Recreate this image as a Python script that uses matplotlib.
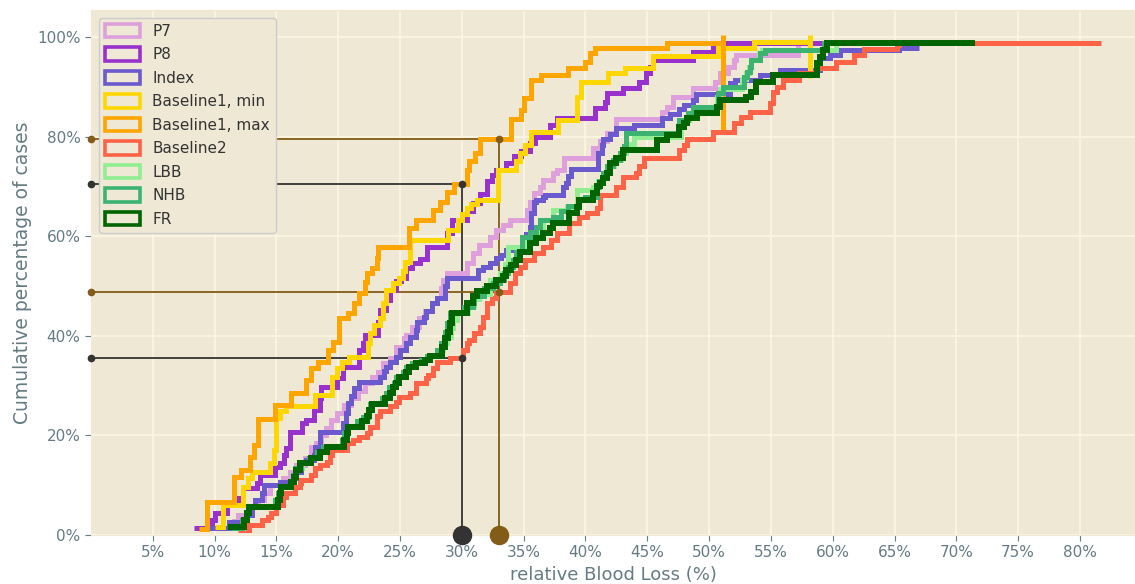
import matplotlib
matplotlib.use("Agg")
import matplotlib.pyplot as plt
from matplotlib.patches import Patch
from matplotlib.ticker import PercentFormatter

# серии (порядок как в легенде)
labels = ["P7", "P8", "Index", "Baseline1, min", "Baseline1, max",
          "Baseline2", "LBB", "NHB", "FR"]
colors = ["plum", "darkorchid", "slateblue", "gold", "orange",
          "tomato", "lightgreen", "mediumseagreen", "darkgreen"]

# точки ступенек: кровопотеря (%) и накопленная доля случаев (%)
p7_loss = [11.3, 11.6, 11.9, 13.0, 13.5, 14.0, 14.5, 15.5, 16.1, 16.6, 17.3, 17.8, 18.2, 18.6, 19.0,
           19.4, 19.9, 20.5, 21.0, 21.6, 22.2, 22.7, 23.2, 23.6, 24.2, 24.7, 25.3, 25.5, 26.0, 26.5,
           27.0, 27.6, 28.0, 28.3, 28.5, 28.8, 30.4, 30.9, 31.4, 32.3, 32.8, 33.3, 33.9, 35.3, 35.5,
           35.8, 36.3, 36.6, 37.4, 37.7, 38.3, 40.6, 41.2, 41.7, 42.5, 46.2, 46.6, 47.1, 48.7, 50.5,
           50.9, 51.5, 52.0, 52.2, 57.2, 58.5]
p7_cum = [1.4, 2.8, 4.0, 5.7, 7.0, 8.5, 10.0, 11.5, 12.7, 14.0, 15.5, 17.7, 18.4, 20.0, 21.5,
          23.0, 24.5, 26.0, 27.5, 29.0, 30.5, 31.8, 32.8, 34.5, 35.5, 37.8, 39.5, 40.2, 41.8, 43.5,
          45.0, 46.5, 47.6, 49.5, 51.2, 52.5, 54.6, 56.6, 58.2, 59.9, 61.2, 62.3, 63.3, 65.3, 66.9,
          68.6, 69.9, 71.3, 72.7, 73.3, 75.6, 77.7, 79.0, 80.7, 83.5, 85.0, 86.0, 88.0, 89.7, 91.0,
          92.7, 94.0, 95.4, 96.4, 98.8, 98.8]

p8_loss = [8.3, 9.75, 10.0, 11.0, 12.0, 12.3, 13.4, 13.7, 14.9, 15.3, 15.6, 15.8, 16.1, 17.1, 17.4,
           18.0, 18.5, 18.6, 19.9, 20.4, 21.7, 22.0, 22.2, 23.2, 23.4, 23.9, 24.2, 24.7, 25.1, 25.5,
           26.0, 26.6, 27.2, 28.8, 29.2, 30.4, 30.9, 31.5, 32.0, 32.4, 32.8, 33.6, 34.2, 34.8, 35.5,
           35.9, 37.1, 37.7, 40.8, 41.6, 41.7, 43.0, 44.3, 44.9, 45.2, 45.5, 48.7, 50.3, 59.2]
p8_cum = [1.4, 3.0, 4.4, 6.0, 7.5, 9.4, 10.4, 12.0, 13.6, 14.4, 16.0, 17.5, 20.7, 22.5, 23.0,
          25.1, 27.5, 29.8, 31.5, 33.8, 37.1, 38.5, 40.2, 42.8, 45.2, 47.2, 49.2, 50.9, 51.6, 53.6,
          54.6, 55.5, 57.9, 60.6, 63.3, 65.0, 66.6, 68.5, 71.0, 72.3, 73.3, 74.7, 76.0, 77.0, 78.7,
          80.0, 82.3, 83.7, 85.7, 87.0, 88.7, 89.7, 91.0, 92.7, 94.0, 95.4, 97.0, 98.8, 98.8]

index_loss = [9.5, 11.2, 12.6, 13.0, 13.3, 13.8, 14.0, 15.3, 16.3, 16.6, 17.0, 17.4, 18.0, 18.1, 18.5,
              20.4, 20.6, 20.8, 21.0, 21.3, 21.7, 23.4, 23.7, 23.9, 24.2, 24.7, 25.0, 25.5, 25.8, 26.3,
              26.4, 26.9, 27.1, 27.6, 28.0, 28.6, 28.8, 31.3, 31.7, 32.3, 32.8, 33.2, 33.6, 34.9, 35.2,
              35.5, 35.6, 35.8, 36.0, 36.6, 36.7, 38.2, 38.4, 38.6, 38.8, 41.0, 41.3, 41.4, 42.0, 42.5,
              43.9, 46.2, 46.8, 47.6, 48.0, 48.7, 48.9, 51.7, 52.1, 54.1, 55.7, 59.0, 59.8, 60.6, 65.4,
              67.0]
index_cum = [1.4, 2.7, 4.0, 5.7, 7.0, 8.4, 10.0, 10.7, 11.4, 12.7, 14.4, 15.1, 16.1, 17.7, 20.7,
             22.5, 24.5, 26.5, 28.0, 29.5, 30.8, 31.8, 33.0, 33.8, 34.8, 35.8, 37.1, 38.5, 39.8, 41.2,
             42.8, 43.8, 45.0, 46.5, 47.6, 50.0, 51.5, 53.2, 53.9, 54.6, 55.6, 56.2, 57.2, 59.2, 60.5,
             61.9, 64.6, 66.9, 67.3, 67.9, 68.3, 69.9, 70.7, 72.0, 73.5, 76.7, 78.3, 79.6, 80.5, 81.7,
             82.3, 83.7, 84.5, 85.5, 86.3, 87.3, 88.5, 90.7, 91.4, 92.4, 93.4, 95.7, 96.4, 97.4, 97.7,
             97.7]

b1min_loss = [10.0, 10.7, 12.3, 12.7, 13.0, 14.5, 14.8, 15.0, 15.3, 15.8, 18.1, 19.5, 19.9, 20.3, 20.9,
              22.4, 22.6, 22.9, 23.4, 23.6, 23.9, 24.4, 24.9, 25.2, 25.4, 25.8, 28.9, 29.7, 30.0, 30.4,
              30.7, 31.2, 32.9, 34.4, 34.7, 35.1, 35.6, 37.8, 39.3, 39.6, 41.8, 43.2, 45.5, 50.7, 53.6,
              58.2]
b1min_cum = [1.6, 6.0, 9.7, 11.4, 12.7, 14.4, 17.0, 23.4, 24.8, 25.8, 28.1, 31.8, 33.5, 34.8, 35.8,
             38.5, 40.5, 42.2, 43.6, 46.5, 49.2, 50.6, 51.6, 53.0, 54.9, 59.2, 61.2, 63.3, 64.5, 65.6,
             66.5, 67.3, 73.3, 75.0, 76.6, 78.3, 81.0, 83.3, 88.0, 91.0, 92.7, 93.7, 96.2, 97.7, 98.9,
             98.9]

b1max_loss = [8.7, 9.35, 11.6, 12.1, 12.9, 13.2, 13.5, 14.9, 16.2, 17.4, 17.8, 18.4, 19.2, 19.6, 20.1,
              20.8, 21.3, 21.7, 22.2, 22.3, 22.7, 23.1, 23.2, 25.7, 26.3, 27.7, 28.2, 28.8, 29.4, 30.4,
              30.6, 31.05, 31.5, 34.0, 34.8, 35.0, 35.6, 36.4, 38.6, 40.0, 40.4, 40.8, 46.6, 51.1]
b1max_cum = [1.2, 6.7, 11.7, 13.0, 15.7, 18.0, 23.3, 26.1, 28.5, 31.1, 33.5, 34.8, 37.1, 38.8, 43.6,
             44.6, 46.6, 48.6, 50.8, 52.6, 53.6, 55.6, 57.9, 61.6, 63.3, 65.3, 66.9, 68.9, 70.5, 73.3,
             75.0, 76.6, 79.5, 83.5, 85.3, 87.7, 91.4, 92.4, 93.7, 95.0, 96.7, 97.7, 98.7, 98.7]

b2_loss = [11.9, 12.8, 13.8, 14.3, 14.6, 15.0, 15.5, 15.8, 16.5, 16.9, 17.0, 17.8, 18.1, 18.5, 19.05,
           19.3, 19.5, 20.7, 21.2, 21.7, 22.3, 22.6, 23.1, 23.4, 24.2, 24.7, 24.9, 25.8, 26.3, 27.1,
           27.3, 27.7, 28.0, 29.0, 30.1, 30.4, 30.6, 31.0, 31.5, 31.7, 32.0, 32.4, 32.8, 33.9, 34.3,
           34.7, 35.1, 35.8, 36.6, 37.2, 37.7, 38.7, 39.5, 40.1, 40.9, 41.2, 42.5, 43.0, 44.1, 44.3,
           44.7, 47.6, 48.0, 48.2, 50.3, 52.0, 52.6, 53.3, 54.9, 55.2, 55.5, 56.0, 57.3, 58.7, 60.3,
           61.7, 62.5, 65.2, 65.4, 81.7]
b2_cum = [1.0, 2.0, 3.0, 3.7, 4.4, 6.0, 7.7, 8.4, 9.7, 10.4, 11.0, 12.0, 13.4, 14.1, 14.7,
          16.0, 17.1, 18.4, 19.1, 19.7, 20.4, 21.7, 23.8, 24.8, 25.8, 26.8, 27.8, 28.5, 30.5, 31.5,
          32.1, 33.5, 34.8, 35.5, 37.1, 38.5, 39.2, 40.5, 41.8, 43.8, 46.5, 47.5, 48.8, 50.5, 52.5,
          53.9, 55.2, 56.6, 57.9, 59.2, 60.6, 62.6, 63.9, 64.6, 65.6, 68.3, 69.9, 71.9, 72.6, 74.0,
          75.6, 77.3, 78.3, 79.6, 81.0, 82.7, 84.0, 85.0, 86.7, 88.9, 90.0, 91.4, 92.7, 93.7, 95.0,
          96.4, 97.5, 98.4, 98.8, 98.8]

lbb_loss = [11.5, 12.3, 12.6, 12.8, 15.0, 15.2, 15.4, 16.2, 16.4, 16.6, 17.1, 17.7, 18.4, 18.9, 20.4,
            20.6, 20.8, 21.6, 22.1, 22.5, 22.7, 23.6, 24.0, 24.3, 24.6, 24.8, 25.3, 25.6, 26.1, 26.8,
            27.3, 28.2, 28.5, 28.8, 29.1, 29.3, 29.6, 30.5, 31.0, 31.4, 32.3, 33.1, 33.5, 33.7, 35.2,
            35.6, 36.1, 36.6, 37.4, 38.5, 39.3, 40.6, 41.0, 41.4, 41.8, 42.3, 42.9, 43.3, 43.9, 47.7,
            48.4, 48.8, 50.6, 50.9, 52.7, 53.0, 53.2, 53.4, 54.0, 54.3, 60.3]
lbb_cum = [1.4, 3.0, 4.4, 5.7, 7.0, 8.4, 9.7, 10.7, 12.0, 13.4, 14.4, 15.5, 16.7, 17.7, 19.1,
           20.5, 21.7, 22.8, 23.6, 25.1, 26.2, 27.5, 28.5, 29.8, 30.5, 31.8, 32.8, 33.8, 34.5, 35.1,
           35.9, 37.1, 38.5, 39.8, 41.5, 43.2, 44.6, 46.0, 47.3, 48.3, 51.2, 52.6, 54.5, 57.9, 59.5,
           60.9, 61.9, 63.3, 65.3, 65.9, 69.3, 69.9, 71.0, 72.6, 74.0, 75.3, 76.7, 78.5, 80.0, 83.3,
           84.7, 86.0, 88.0, 89.5, 91.5, 92.7, 94.0, 95.4, 96.7, 97.4, 98.8]

nhb_loss = [11.3, 12.2, 12.5, 12.7, 14.9, 15.1, 15.3, 16.1, 16.3, 16.5, 17.0, 17.6, 18.3, 18.8, 20.3,
            20.5, 20.7, 21.5, 22.0, 22.4, 22.6, 23.5, 23.9, 24.1, 24.5, 24.7, 25.2, 25.5, 26.0, 26.7,
            27.2, 28.0, 28.3, 28.6, 28.8, 29.0, 30.2, 30.9, 31.0, 31.8, 32.5, 33.1, 33.4, 33.7, 34.1,
            34.4, 34.9, 35.5, 36.0, 36.3, 37.4, 38.0, 38.6, 39.5, 40.0, 40.9, 41.1, 41.4, 41.7, 42.2,
            42.8, 43.1, 43.3, 47.6, 48.3, 48.7, 50.7, 51.1, 52.8, 53.1, 53.3, 53.4, 54.1, 54.5, 59.3,
            59.6]
nhb_cum = [1.4, 3.0, 4.4, 5.7, 7.0, 8.4, 9.7, 10.7, 12.0, 13.4, 14.4, 15.5, 16.7, 17.7, 19.1,
           20.5, 21.7, 22.8, 23.6, 25.1, 26.2, 27.5, 28.5, 29.8, 30.5, 31.8, 32.8, 33.8, 34.5, 35.1,
           35.9, 37.1, 38.5, 40.8, 42.5, 44.6, 45.8, 46.6, 48.0, 49.5, 50.5, 51.2, 52.5, 53.9, 55.2,
           56.9, 59.9, 60.9, 61.9, 63.3, 63.9, 65.0, 66.0, 67.3, 67.9, 69.9, 71.0, 72.6, 74.0, 75.3,
           76.7, 78.0, 80.7, 83.3, 84.7, 86.0, 88.7, 90.0, 92.0, 93.0, 94.0, 95.4, 96.7, 97.4, 98.8,
           98.8]

fr_loss = [11.1, 12.4, 12.6, 12.8, 15.1, 15.3, 15.4, 16.2, 16.4, 16.6, 16.9, 17.8, 18.5, 19.05, 20.5,
           20.7, 20.8, 21.9, 22.3, 22.5, 22.7, 23.8, 24.2, 24.4, 24.7, 24.9, 25.5, 25.7, 26.3, 27.0,
           27.4, 28.4, 28.6, 28.9, 29.0, 29.2, 30.4, 30.9, 31.2, 32.0, 32.8, 33.3, 33.6, 34.0, 34.4,
           34.7, 35.5, 36.0, 36.6, 37.1, 37.4, 38.7, 39.3, 39.5, 40.6, 40.9, 41.2, 41.4, 41.7, 42.0,
           42.5, 43.0, 45.8, 46.6, 47.6, 48.0, 48.2, 49.0, 50.6, 50.9, 53.0, 53.4, 53.8, 55.2, 58.7,
           59.0, 59.2, 59.5, 71.5]
fr_cum = [1.7, 3.0, 4.4, 5.7, 7.0, 8.4, 9.7, 10.7, 11.7, 13.1, 14.4, 15.5, 16.7, 17.7, 19.1,
          20.5, 21.7, 22.8, 23.8, 25.1, 26.2, 27.5, 28.5, 29.8, 30.5, 31.8, 32.8, 33.8, 34.5, 35.1,
          35.9, 37.8, 39.5, 40.8, 42.5, 44.6, 46.5, 47.9, 48.9, 49.9, 51.2, 51.9, 53.2, 54.2, 55.2,
          56.9, 58.6, 59.6, 60.6, 61.6, 62.6, 64.6, 65.9, 67.3, 68.6, 70.0, 70.6, 71.6, 72.6, 74.6,
          75.6, 77.3, 79.3, 80.3, 82.0, 82.7, 83.7, 84.7, 86.0, 87.3, 88.0, 89.0, 91.0, 92.4, 94.7,
          96.0, 97.4, 98.8, 98.8]

all_loss = [p7_loss, p8_loss, index_loss, b1min_loss, b1max_loss, b2_loss, lbb_loss, nhb_loss, fr_loss]
all_cum = [p7_cum, p8_cum, index_cum, b1min_cum, b1max_cum, b2_cum, lbb_cum, nhb_cum, fr_cum]

# вертикальные "хвосты" в конце у Baseline1 (x, y_низ, y_верх)
b1min_tail = (58.2, 91.7, 100.4)
b1max_tail = (51.1, 80.5, 100.4)

# отметки порогов
cut_dark, levels_dark = 30, [70.5, 35.5]
cut_brown, levels_brown = 33, [79.5, 48.8]
dark, brown = "#333333", "#835c17"

plt.style.use("Solarize_Light2")
fig = plt.figure(figsize=(11.35, 5.84), dpi=100, facecolor="white")
ax = fig.add_axes([91 / 1135, 49 / 584, 1044 / 1135, 525 / 584])

for xs, ys, c in zip(all_loss, all_cum, colors):
    lw = 4.3 if c == "darkgreen" else 3.6
    ax.plot(xs, ys, drawstyle="steps-post", color=c, lw=lw, zorder=3,
            solid_joinstyle="miter")
    if c == "gold":
        ax.plot([b1min_tail[0]] * 2, b1min_tail[1:], color=c, lw=lw, zorder=3)
    if c == "orange":
        ax.plot([b1max_tail[0]] * 2, b1max_tail[1:], color=c, lw=lw, zorder=3)

# линии порогов
for cut, levels, col in [(cut_dark, levels_dark, dark), (cut_brown, levels_brown, brown)]:
    ax.vlines(cut, 0, max(levels), color=col, lw=1.3, zorder=2)
    ax.hlines(levels, 0, cut, color=col, lw=1.3, zorder=2)
    ax.plot([cut] * len(levels), levels, "o", color=col, ms=4.5, zorder=4)
    ax.plot([0] * len(levels), levels, "o", color=col, ms=4.5, zorder=4, clip_on=False)
    ax.plot([cut], [0], "o", color=col, ms=13, zorder=5, clip_on=False)

ax.set_xlim(0, 84.45)
ax.set_ylim(0, 105.4)
ax.set_xticks(range(5, 85, 5))
ax.set_yticks(range(0, 101, 20))
ax.xaxis.set_major_formatter(PercentFormatter(decimals=0))
ax.yaxis.set_major_formatter(PercentFormatter(decimals=0))
ax.tick_params(labelsize=11, colors="#657b83", length=4, direction="out")
ax.grid(True, color="#fdf6e3", lw=1.2)
ax.set_xlabel("relative Blood Loss (%)", fontsize=13, color="#657b83")
ax.set_ylabel("Cumulative percentage of cases", fontsize=13.5, color="#657b83")

handles = [Patch(facecolor="none", edgecolor=c, lw=2.6) for c in colors]
ax.legend(handles, labels, loc="upper left", fontsize=11, labelcolor="#333333",
          handlelength=2.3, handleheight=1.0, labelspacing=0.55,
          facecolor="#eee8d5", edgecolor="#cccccc", framealpha=1.0)

fig.savefig("out.png", dpi=100, facecolor="white")
